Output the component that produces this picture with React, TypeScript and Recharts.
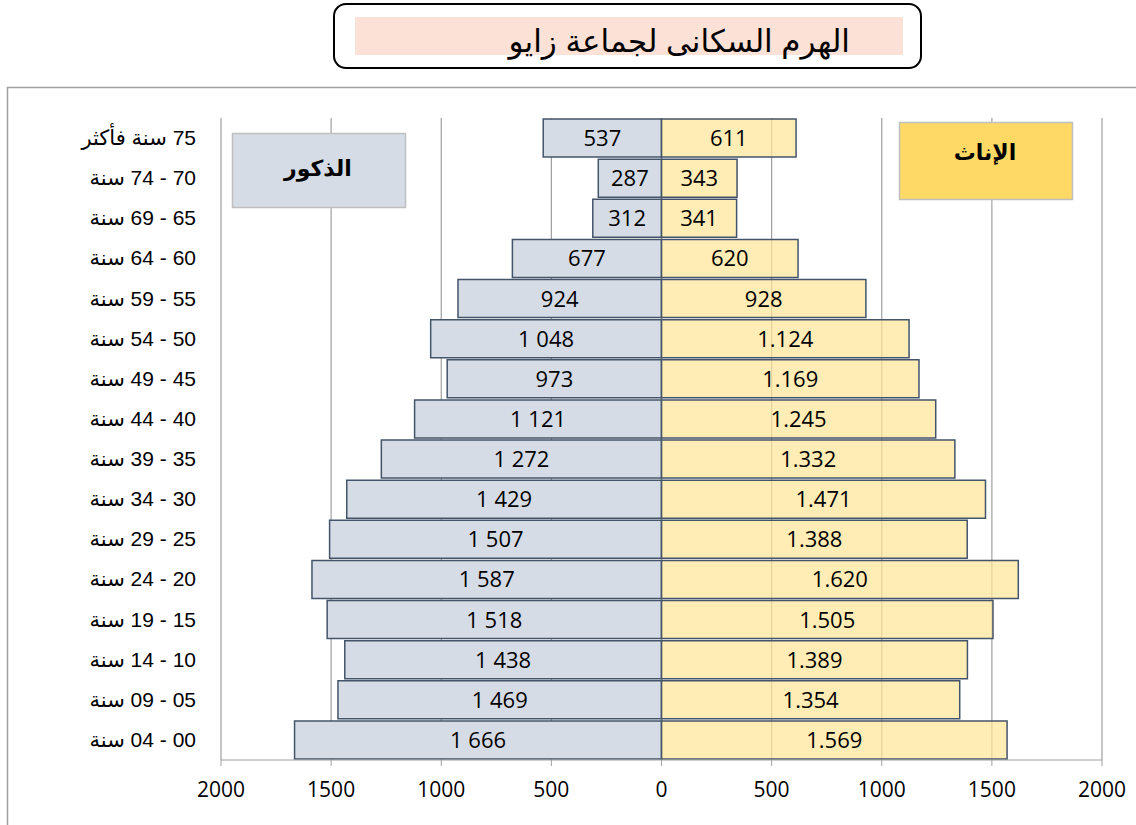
import React from "react";
import { BarChart, Bar, XAxis, YAxis, CartesianGrid, LabelList } from "recharts";

const categories = [
  "75 سنة فأكثر",
  "70 - 74 سنة",
  "65 - 69 سنة",
  "60 - 64 سنة",
  "55 - 59 سنة",
  "50 - 54 سنة",
  "45 - 49 سنة",
  "40 - 44 سنة",
  "35 - 39 سنة",
  "30 - 34 سنة",
  "25 - 29 سنة",
  "20 - 24 سنة",
  "15 - 19 سنة",
  "10 - 14 سنة",
  "05 - 09 سنة",
  "00 - 04 سنة",
];
const males = [537, 287, 312, 677, 924, 1048, 973, 1121, 1272, 1429, 1507, 1587, 1518, 1438, 1469, 1666];
const females = [611, 343, 341, 620, 928, 1124, 1169, 1245, 1332, 1471, 1388, 1620, 1505, 1389, 1354, 1569];
const xTicks = [-2000, -1500, -1000, -500, 0, 500, 1000, 1500, 2000];

const title = "الهرم السكانى لجماعة زايو";
const maleLabel = "الذكور";
const femaleLabel = "الإناث";

const data = categories.map((c, i) => ({ cat: c, m: -males[i], f: females[i] }));

const numFont = "'Open Sans', 'DejaVu Sans', sans-serif";
const arFont = "'Liberation Sans', Arial, 'DejaVu Sans', sans-serif";

const fmtMale = (v: number) => {
  const a = Math.abs(v);
  return a >= 1000 ? `${Math.floor(a / 1000)} ${String(a % 1000).padStart(3, "0")}` : String(a);
};
const fmtFemale = (v: number) => {
  const a = Math.abs(v);
  return a >= 1000 ? `${Math.floor(a / 1000)}.${String(a % 1000).padStart(3, "0")}` : String(a);
};

const makeLabel = (fmt: (v: number) => string) => (props: any) => {
  const { x, y, width, height, value } = props;
  const cx = Number(x) + Number(width) / 2;
  const cy = Number(y) + Number(height) / 2;
  return (
    <text x={cx} y={cy} dy={8} textAnchor="middle" fontSize={22} fontFamily={numFont} fill="#000">
      {fmt(Number(value))}
    </text>
  );
};

const YTick = (props: any) => {
  const { y, payload } = props;
  return (
    <text x={196} y={y} dy={7} textAnchor="end" fontSize={21} fontFamily={arFont} fill="#000">
      {"\u202B" + payload.value + "\u202C"}
    </text>
  );
};

export default function App() {
  return (
    <div style={{ position: "absolute", left: 0, top: 0, width: 1136, height: 825, overflow: "hidden", background: "#fff" }}>
      <svg width={1136} height={825} style={{ position: "absolute", left: 0, top: 0 }}>
        <rect x={7.5} y={87.5} width={1200} height={800} fill="#fff" stroke="#A0A0A0" strokeWidth={1.5} />
        <rect x={334} y={4} width={587} height={64} rx={12} ry={12} fill="#fff" stroke="#000" strokeWidth={2} />
        <rect x={355} y={17} width={548} height={38} fill="#FBE1D6" />
        <text x={850} y={52} textAnchor="end" fontSize={31} fontFamily={arFont} fill="#000">
          {title}
        </text>
      </svg>
      <div style={{ position: "absolute", left: 0, top: 0 }}>
        <BarChart
          width={1136}
          height={825}
          data={data}
          layout="vertical"
          stackOffset="sign"
          barCategoryGap={1}
          margin={{ top: 118, right: 34, bottom: 25, left: 0 }}
        >
          <CartesianGrid horizontal={false} stroke="#A0A0A0" strokeWidth={1.2} />
          <XAxis
            type="number"
            domain={[-2000, 2000]}
            ticks={xTicks}
            tickFormatter={(v: number) => String(Math.abs(v))}
            stroke="#A0A0A0"
            tickSize={6}
            tickMargin={16}
            height={40}
            tick={{ fill: "#000", fontSize: 21, fontFamily: numFont }}
          />
          <YAxis type="category" dataKey="cat" width={221} axisLine={false} tickLine={false} tick={<YTick />} />
          <Bar dataKey="m" stackId="a" fill="#D6DCE5" stroke="#44546A" strokeWidth={1.5} isAnimationActive={false}>
            <LabelList dataKey="m" content={makeLabel(fmtMale)} />
          </Bar>
          <Bar dataKey="f" stackId="a" fill="#FFE699" fillOpacity={0.72} stroke="#44546A" strokeWidth={1.5} isAnimationActive={false}>
            <LabelList dataKey="f" content={makeLabel(fmtFemale)} />
          </Bar>
        </BarChart>
      </div>
      <svg width={1136} height={825} style={{ position: "absolute", left: 0, top: 0, pointerEvents: "none" }}>
        <rect x={232.5} y={133.5} width={173} height={74} fill="#D6DCE5" stroke="#BFBFBF" strokeWidth={1.5} />
        <text x={318} y={176} textAnchor="middle" fontSize={22} fontWeight="bold" fontFamily={arFont} fill="#000">
          {maleLabel}
        </text>
        <rect x={899.5} y={122.5} width={173} height={77} fill="#FFD966" stroke="#BFBFBF" strokeWidth={1.5} />
        <text x={985} y={160} textAnchor="middle" fontSize={22} fontWeight="bold" fontFamily={arFont} fill="#000">
          {femaleLabel}
        </text>
      </svg>
    </div>
  );
}
